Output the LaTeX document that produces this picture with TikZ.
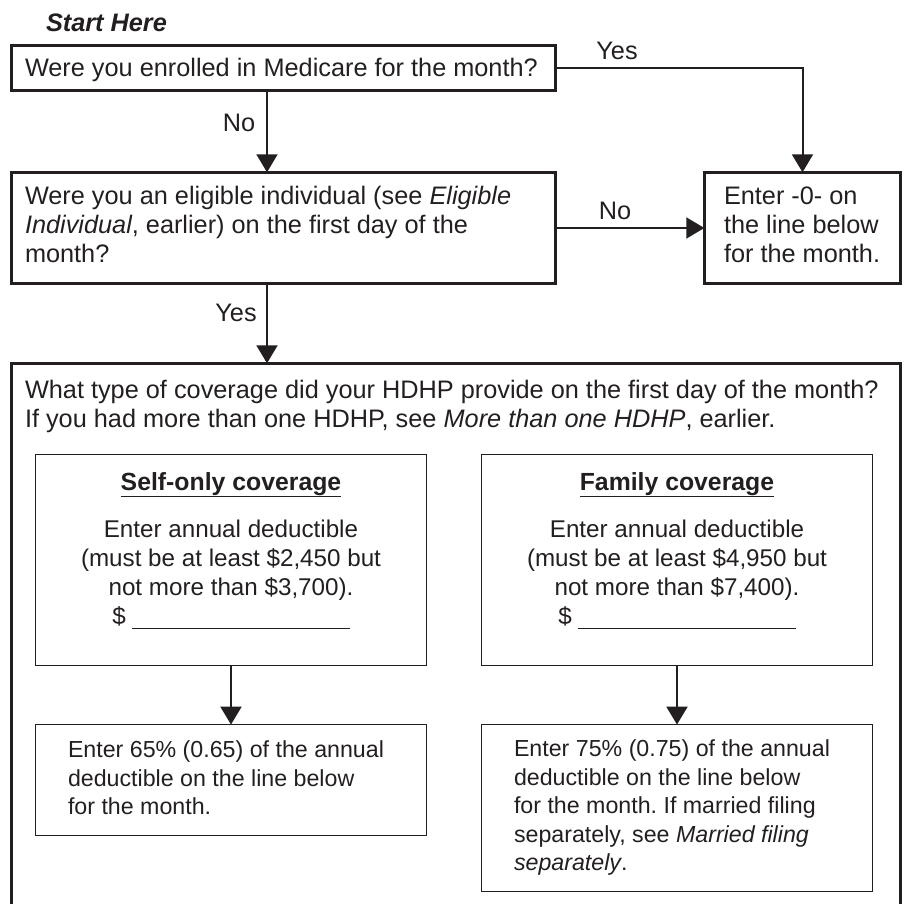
\documentclass[tikz,border=0pt]{standalone}
\usepackage{fontspec}
\setmainfont{Liberation Sans}
\usetikzlibrary{arrows.meta}
\definecolor{ink}{HTML}{231F20}
\newcommand{\mainsz}{\fontsize{25.3}{29}\selectfont}
\newcommand{\subsz}{\fontsize{24.2}{29}\selectfont}
\newcommand{\headsz}{\fontsize{24.8}{29}\selectfont}
\newcommand{\lowsz}{\fontsize{23.2}{28.4}\selectfont}
\frenchspacing
\begin{document}
\begin{tikzpicture}[x=1pt,y=-1pt,
  mainbox/.style={draw=ink, line width=2.6pt, outer sep=0pt, inner sep=0pt, anchor=north west},
  subbox/.style={draw=ink, line width=1.3pt, outer sep=0pt, inner sep=0pt, anchor=north west},
  txt/.style={text=ink, inner sep=0pt, outer sep=0pt},
  arr/.style={draw=ink, line width=2pt, -{Triangle[width=21pt,length=18pt]}}
]
\useasboundingbox (0,0) rectangle (906,904);

% title
\node[txt, anchor=base west, font=\mainsz\bfseries\itshape] (start) at (46,32) {Start Here};

% box 1
\node[mainbox, minimum width=544.4pt, minimum height=45.4pt] (q1) at (11.3,45.3) {};
\node[txt, anchor=base west, font=\mainsz] (q1t) at (25,77) {Were you enrolled in Medicare for the month?};

% box 2
\node[mainbox, minimum width=544.4pt, minimum height=111.4pt] (q2) at (11.3,172.3) {};
\node[txt, anchor=north west, align=left, font=\mainsz] (q2t) at (25,186.5)
  {Were you an eligible individual (see \textit{Eligible}\\\textit{Individual}, earlier) on the first day of the\\month?};

% box 3
\node[mainbox, minimum width=196.4pt, minimum height=111.4pt] (zero) at (704.3,172.3) {};
\node[txt, anchor=north west, align=left, font=\mainsz] (zerot) at (724,186.5)
  {Enter -0- on\\the line below\\for the month.};

% big box (bottom edge cut by the page)
\node[draw=none, outer sep=0pt, inner sep=0pt, anchor=north west, minimum width=889.4pt, minimum height=541pt] (cov) at (11.3,363.3) {};
\draw[ink, line width=2.6pt] (cov.south west) -- (cov.north west) -- (cov.north east) -- (cov.south east);
\node[txt, anchor=north west, align=left, font=\mainsz] (covq) at (25,380.5)
  {What type of coverage did your HDHP provide on the first day of the month?\\If you had more than one HDHP, see \textit{More than one HDHP}, earlier.};

% self-only
\node[subbox, minimum width=390.8pt, minimum height=210.8pt] (self) at (35.6,454.6) {};
\node[txt, anchor=base, font=\headsz\bfseries] (selfh) at (231,490) {\underline{Self-only coverage}};
\node[txt, anchor=north, align=center, font=\subsz] (selft) at (231,519.5)
  {Enter annual deductible\\(must be at least \$2,450 but\\not more than \$3,700).\\\$\hspace{6pt}\rule[-5pt]{218pt}{1.2pt}};

% family
\node[subbox, minimum width=390.8pt, minimum height=210.8pt] (fam) at (481.6,454.6) {};
\node[txt, anchor=base, font=\headsz\bfseries] (famh) at (677,490) {\underline{Family coverage}};
\node[txt, anchor=north, align=center, font=\subsz] (famt) at (677,519.5)
  {Enter annual deductible\\(must be at least \$4,950 but\\not more than \$7,400).\\\$\hspace{6pt}\rule[-5pt]{218pt}{1.2pt}};

% lower boxes
\node[subbox, minimum width=390.8pt, minimum height=110.8pt] (selfr) at (35.6,724.6) {};
\node[txt, anchor=north west, align=left, font=\lowsz] (selfrt) at (68,741)
  {Enter 65\% (0.65) of the annual\\deductible on the line below\\for the month.};
\node[subbox, minimum width=390.8pt, minimum height=166.8pt] (famr) at (481.6,724.6) {};
\node[txt, anchor=north west, align=left, font=\lowsz] (famrt) at (514,740)
  {Enter 75\% (0.75) of the annual\\deductible on the line below\\for the month. If married filing\\separately, see \textit{Married filing}\\\textit{separately}.};

% connectors
\coordinate (col) at (267,0);
\draw[arr] (q1.south -| col) -- (q2.north -| col);
\node[txt, anchor=base, font=\mainsz] (no1) at (239,132) {No};
\draw[arr] (q1.east) -| (zero.north);
\node[txt, anchor=base, font=\mainsz] (yes1) at (617,60) {Yes};
\draw[arr] (q2.east) -- (zero.west);
\node[txt, anchor=base, font=\mainsz] (no2) at (615,220) {No};
\draw[arr] (q2.south -| col) -- (cov.north -| col);
\node[txt, anchor=base, font=\mainsz] (yes2) at (236,322) {Yes};
\draw[arr] (self.south) -- (selfr.north);
\draw[arr] (fam.south) -- (famr.north);
\end{tikzpicture}
\end{document}
